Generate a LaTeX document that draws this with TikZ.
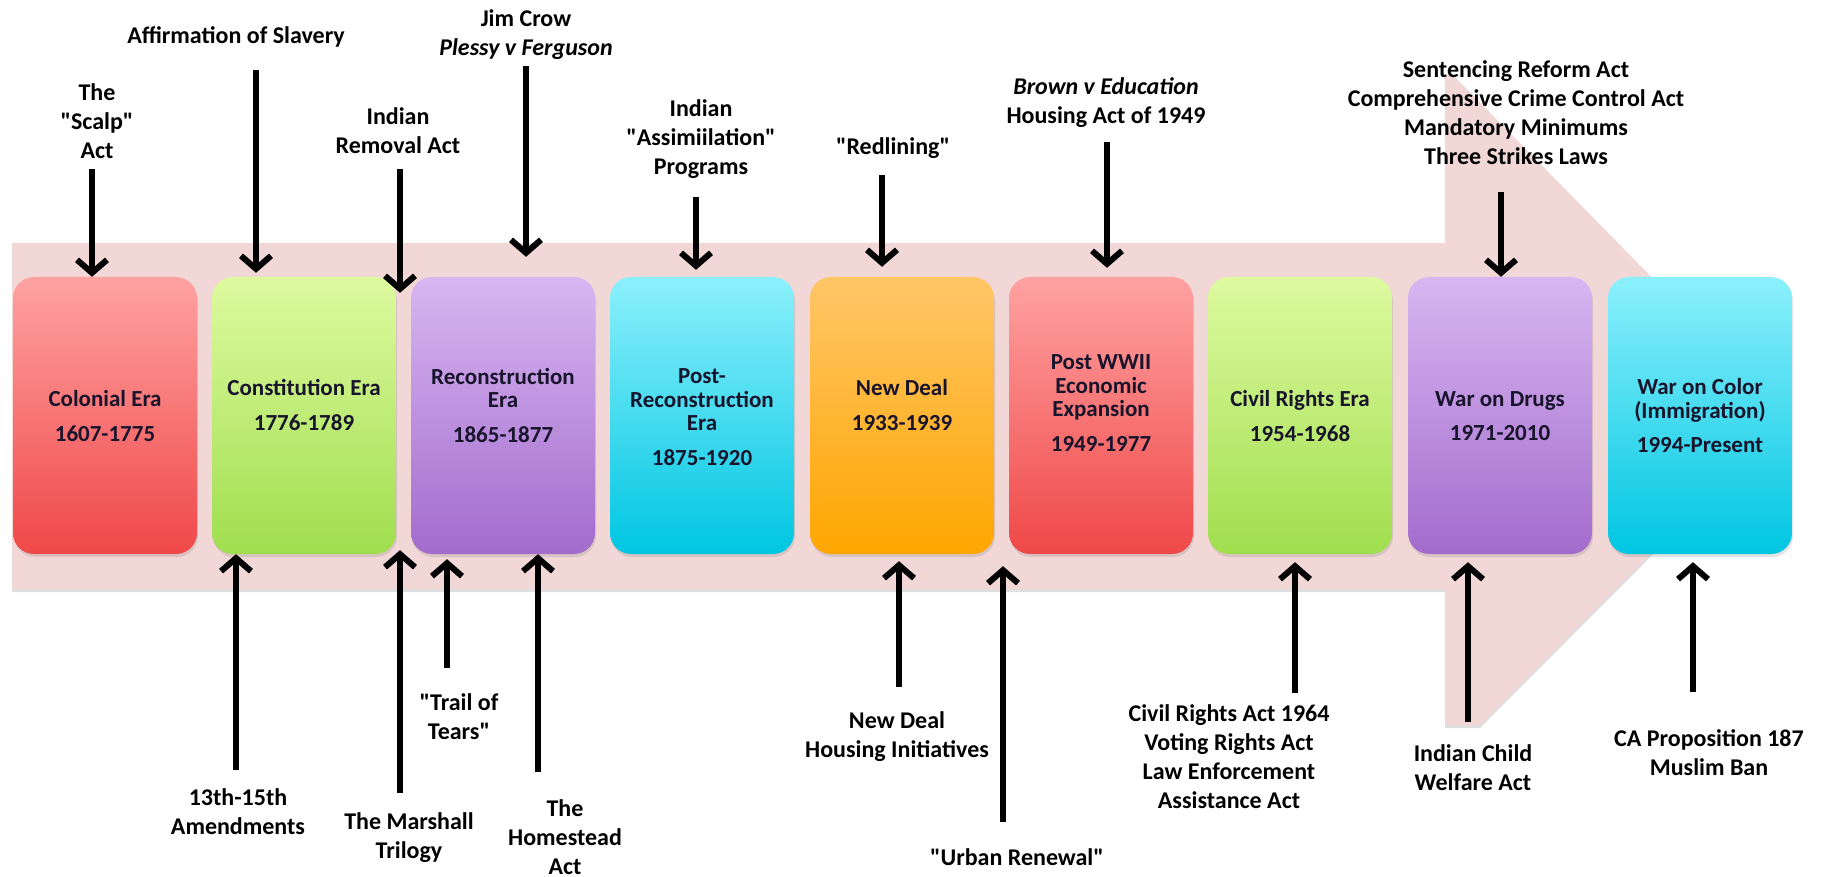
\documentclass[tikz,border=0pt]{standalone}
\usepackage{fontspec}
\setmainfont{Carlito}[Ligatures=TeXOff]
\usetikzlibrary{arrows.meta,shadows}
\definecolor{pinkbg}{RGB}{242,215,215}
\definecolor{redT}{RGB}{255,162,162}
\definecolor{redB}{RGB}{240,72,72}
\definecolor{grnT}{RGB}{222,250,160}
\definecolor{grnB}{RGB}{160,222,78}
\definecolor{purT}{RGB}{216,182,242}
\definecolor{purB}{RGB}{163,108,204}
\definecolor{cyaT}{RGB}{140,240,252}
\definecolor{cyaB}{RGB}{0,198,226}
\definecolor{orgT}{RGB}{255,198,104}
\definecolor{orgB}{RGB}{255,166,0}
\definecolor{eratext}{RGB}{24,20,44}
\newcommand\erafnt{\fontsize{23}{23.5}\selectfont\bfseries}
\newcommand\lblfnt{\fontsize{24}{29}\selectfont\bfseries}
\begin{document}
\begin{tikzpicture}[x=1pt,y=-1pt,
 erabox/.style={rounded corners=21pt, minimum width=184pt, minimum height=277pt, inner sep=0pt,
   drop shadow={shadow xshift=1pt,shadow yshift=-3pt,opacity=0.22}},
 eratxt/.style={align=center, font=\erafnt, text=eratext, inner sep=0pt},
 lbl/.style={align=center, font=\lblfnt, text=black, inner sep=0pt},
 arr/.style={line width=6pt, -{Straight Barb[length=13pt,width=30pt]}},
]
\fill[white] (0,0) rectangle (1828,877);
\useasboundingbox (0,0) rectangle (1828,877);

% big background arrow
\fill[pinkbg, drop shadow={shadow xshift=0pt,shadow yshift=-3pt,opacity=0.25}]
  (12,243) -- (1445,243) -- (1445,74) -- (1452,74) -- (1788,416) -- (1480,725)
  -- (1445,725) -- (1445,589) -- (12,589) -- cycle;

% era boxes
\node[erabox, top color=redT, bottom color=redB] (b1) at (105,415.5) {};
\node[erabox, top color=grnT, bottom color=grnB] (b2) at (304,415.5) {};
\node[erabox, top color=purT, bottom color=purB] (b3) at (503,415.5) {};
\node[erabox, top color=cyaT, bottom color=cyaB] (b4) at (702,415.5) {};
\node[erabox, top color=orgT, bottom color=orgB] (b5) at (902,415.5) {};
\node[erabox, top color=redT, bottom color=redB] (b6) at (1101,415.5) {};
\node[erabox, top color=grnT, bottom color=grnB] (b7) at (1300,415.5) {};
\node[erabox, top color=purT, bottom color=purB] (b8) at (1500,415.5) {};
\node[erabox, top color=cyaT, bottom color=cyaB] (b9) at (1700,415.5) {};

\node[eratxt] (t1) at (105,416) {Colonial Era\\[11pt]1607-1775};
\node[eratxt] (t2) at (304,405) {Constitution Era\\[11pt]1776-1789};
\node[eratxt] (t3) at (503,405) {Reconstruction\\Era\\[11pt]1865-1877};
\node[eratxt] (t4) at (702,417) {Post-\\Reconstruction\\Era\\[11pt]1875-1920};
\node[eratxt] (t5) at (902,405) {New Deal\\[11pt]1933-1939};
\node[eratxt] (t6) at (1101,403) {Post WWII\\Economic\\Expansion\\[11pt]1949-1977};
\node[eratxt] (t7) at (1300,416) {Civil Rights Era\\[11pt]1954-1968};
\node[eratxt] (t8) at (1500,416) {War on Drugs\\[11pt]1971-2010};
\node[eratxt] (t9) at (1700,416) {War on Color\\(Immigration)\\[11pt]1994-Present};

% top labels
\node[lbl] (l1) at (97,121) {The\\"Scalp"\\Act};
\node[lbl] (l2) at (236,37) {Affirmation of Slavery};
\node[lbl] (l3) at (398,131) {Indian\\Removal Act};
\node[lbl] (l4) at (526,35) {Jim Crow\\\textit{Plessy v Ferguson}};
\node[lbl] (l5) at (701,139) {Indian\\"Assimiilation"\\Programs};
\node[lbl] (l6) at (893,148) {"Redlining"};
\node[lbl] (l7) at (1106,103) {\textit{Brown v Education}\\Housing Act of 1949};
\node[lbl] (l8) at (1516,113) {Sentencing Reform Act\\Comprehensive Crime Control Act\\Mandatory Minimums\\Three Strikes Laws};

% bottom labels
\node[lbl] (m1) at (238,812) {13th-15th\\Amendments};
\node[lbl] (m2) at (409,838) {The Marshall\\Trilogy};
\node[lbl] (m3) at (459,717) {"Trail of\\Tears"};
\node[lbl] (m4) at (565,837) {The\\Homestead\\Act};
\node[lbl] (m5) at (897,737) {New Deal\\Housing Initiatives};
\node[lbl] (m6) at (1017,857) {"Urban Renewal"};
\node[lbl] (m7) at (1229,757) {Civil Rights Act 1964\\Voting Rights Act\\Law Enforcement\\Assistance Act};
\node[lbl] (m8) at (1473,768) {Indian Child\\Welfare Act};
\node[lbl] (m9) at (1709,753) {CA Proposition 187\\Muslim Ban};

% top arrows
\coordinate (a1) at (92,169);
\coordinate (a2) at (256,70);
\coordinate (a3) at (400,169);
\coordinate (a4) at (526,66);
\coordinate (a5) at (696,197);
\coordinate (a6) at (882,175);
\coordinate (a7) at (1107,142);
\coordinate (a8) at (1501,192);
\draw[arr] (a1) -- (a1 |- b1.north);
\draw[arr, shorten >=4pt] (a2) -- (a2 |- b2.north);
\draw[arr, shorten >=-16pt] (a3) -- (a3 |- b2.north);
\draw[arr, shorten >=20pt] (a4) -- (a4 |- b3.north);
\draw[arr, shorten >=7pt] (a5) -- (a5 |- b4.north);
\draw[arr, shorten >=10pt] (a6) -- (a6 |- b5.north);
\draw[arr, shorten >=9pt] (a7) -- (a7 |- b6.north);
\draw[arr] (a8) -- (a8 |- b8.north);

% bottom arrows
\coordinate (c1) at (236,770);
\coordinate (c2) at (400,793);
\coordinate (c3) at (447,668);
\coordinate (c4) at (538,772);
\coordinate (c5) at (899,687);
\coordinate (c6) at (1003,822);
\coordinate (c7) at (1295,693);
\coordinate (c8) at (1468,722);
\coordinate (c9) at (1693,692);
\draw[arr] (c1) -- (c1 |- b2.south);
\draw[arr, shorten >=-4pt] (c2) -- (c2 |- b2.south);
\draw[arr, shorten >=5pt] (c3) -- (c3 |- b3.south);
\draw[arr] (c4) -- (c4 |- b3.south);
\draw[arr, shorten >=7pt] (c5) -- (c5 |- b5.south);
\draw[arr, shorten >=12pt] (c6) -- (c6 |- b5.south);
\draw[arr, shorten >=8pt] (c7) -- (c7 |- b7.south);
\draw[arr, shorten >=8pt] (c8) -- (c8 |- b8.south);
\draw[arr, shorten >=8pt] (c9) -- (c9 |- b9.south);
\end{tikzpicture}
\end{document}
